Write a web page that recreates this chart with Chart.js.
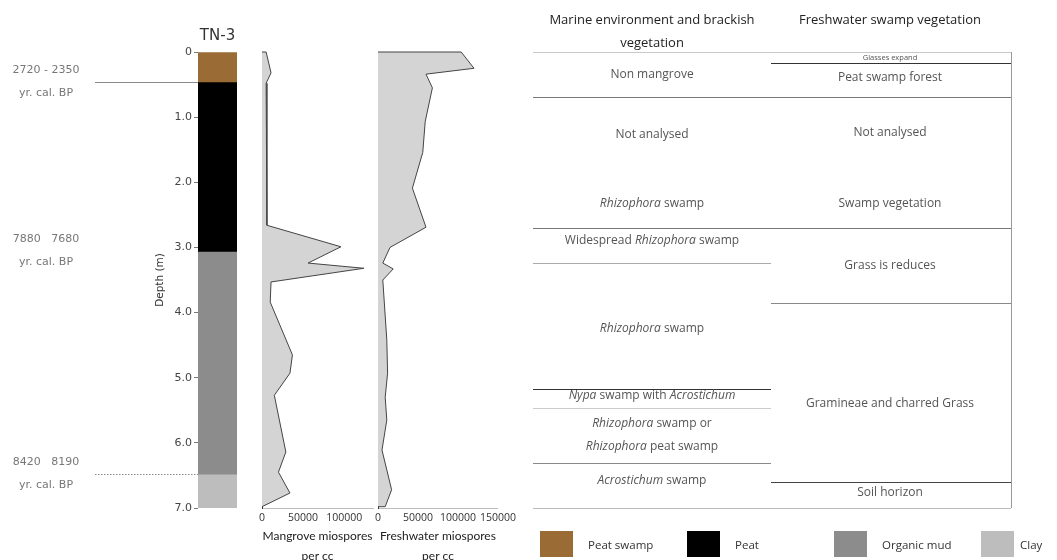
<!DOCTYPE html>
<html>
<head>
<meta charset="utf-8">
<title>TN-3 core: lithology, miospores and vegetation zones</title>
<script src="https://cdn.jsdelivr.net/npm/chart.js@4.4.1/dist/chart.umd.min.js"></script>
<style>
  html, body { margin: 0; padding: 0; background: #fff; overflow: hidden; width: 1057px; height: 560px; }
  canvas { position: absolute; top: 0; }
  .lg-item { position: absolute; top: 531px; height: 26px; display: flex; align-items: center;
             font: 11.5px "Open Sans", sans-serif; color: #333; white-space: nowrap; }
  .lg-swatch { width: 33px; height: 26px; margin-right: 15px; }
</style>
</head>
<body>
<canvas id="core" width="250" height="560" style="left:0px"></canvas>
<canvas id="mangrove" width="140" height="580" style="left:250px"></canvas>
<canvas id="fresh" width="150" height="580" style="left:370px"></canvas>
<canvas id="zones" width="537" height="560" style="left:520px"></canvas>
<div id="legend"></div>

<script>
// ---- Core TN-3 lithology (depth in m) ----
const lithNames = ['Peat swamp', 'Peat', 'Organic mud', 'Clay'];
const lithTop   = [0, 0.46, 3.06, 6.48];
const lithBase  = [0.46, 3.06, 6.48, 7.0];

// Radiocarbon ages at unit boundaries
const ageDepths = [0.46, 3.06, 6.48];
const ageLabels = ['2720 - 2350', '7880   7680', '8420   8190'];
const ageUnit = 'yr. cal. BP';

const depthTicks = [0, 1, 2, 3, 4, 5, 6, 7];

// ---- Miospore concentrations (per cc) ----
const mangroveDepth = [0, 0.32, 0.48, 2.66, 2.99, 3.24, 3.32, 3.53, 3.84, 4.65, 4.93, 5.27, 6.14, 6.45, 6.77, 6.98];
const mangroveCount = [5000, 11000, 5000, 6000, 96000, 56000, 124000, 11000, 10000, 37000, 34000, 15000, 29000, 20000, 34000, 0];

const freshDepth = [0, 0.25, 0.34, 0.55, 1.07, 1.54, 2.09, 2.69, 3.00, 3.24, 3.33, 3.50, 4.42, 4.93, 5.30, 5.65, 6.11, 6.72, 6.98];
const freshCount = [104000, 120000, 60000, 68000, 59000, 56000, 43000, 60000, 15000, 6000, 19000, 6000, 11000, 12000, 9000, 11000, 5000, 17000, 9000];

const mangroveTicks = [0, 50000, 100000];
const freshTicks = [0, 50000, 100000, 150000];

// ---- Vegetation zones (depth in m; *text* is set in italics) ----
const zoneColumns = ['Marine environment and brackish vegetation', 'Freshwater swamp vegetation'];

const marineBounds = [0, 0.69, 1.85, 2.70, 3.24, 5.17, 5.46, 6.31, 7.0];
const marineRuled  = [0, 0.69, 2.70, 3.24, 5.17, 5.46, 6.31, 7.0];
const marineText = ['Non mangrove', 'Not analysed', '*Rhizophora* swamp', 'Widespread *Rhizophora* swamp',
  '*Rhizophora* swamp', '*Nypa* swamp with *Acrostichum*', '*Rhizophora* swamp or\n*Rhizophora* peat swamp',
  '*Acrostichum* swamp'];
const marineLabelDepth = [0.34, 1.27, 2.32, 2.90, 4.25, 5.27, 5.885, 6.58];

const freshBounds = [0, 0.17, 0.69, 1.85, 2.70, 3.85, 6.60, 7.0];
const freshRuled  = [0, 0.17, 0.69, 2.70, 3.85, 6.60, 7.0];
const freshText = ['Glasses expand', 'Peat swamp forest', 'Not analysed', 'Swamp vegetation',
  'Grass is reduces', 'Gramineae and charred Grass', 'Soil horizon'];
const freshLabelDepth = [0.09, 0.40, 1.23, 2.32, 3.28, 5.39, 6.77];

// ---- Styling ----
const LITH_COLORS = ['#9a6b34', '#000000', '#8c8c8c', '#bdbdbd'];
const AGE_RULES = ['solid', null, 'dotted'];
const MARINE_RULE_COLORS = ['#c8c8c8', '#7a7a7a', '#777777', '#aaaaaa', '#333333', '#cccccc', '#888888', '#bbbbbb'];
const FRESH_RULE_COLORS  = ['#c8c8c8', '#333333', '#7a7a7a', '#777777', '#888888', '#444444', '#bbbbbb'];
const SANS = '"Open Sans", "Noto Sans", sans-serif';
const NARROW = 'Lato, "Open Sans", sans-serif';
const DEJAVU = '"DejaVu Sans", sans-serif';
const FILL = '#d4d4d4';
const STROKE = '#444444';

Chart.defaults.animation = false;
Chart.defaults.plugins.legend.display = false;
Chart.defaults.plugins.tooltip.enabled = false;

// ---------- Lithology column with age annotations ----------
const ageMarks = {
  id: 'ageMarks',
  afterDraw(chart) {
    const { ctx, chartArea, scales: { y } } = chart;
    ctx.save();
    ctx.font = '11px ' + DEJAVU;
    ctx.fillStyle = '#777';
    ctx.textAlign = 'center';
    ctx.textBaseline = 'middle';
    ageDepths.forEach((d, i) => {
      const py = y.getPixelForValue(d);
      ctx.fillText(ageLabels[i], 46, py - 12);
      ctx.fillText(ageUnit, 46, py + 11);
      const rule = AGE_RULES[i];
      if (rule) {
        const ly = Math.round(py) + 0.5;
        ctx.strokeStyle = '#8a8a8a';
        ctx.lineWidth = 1;
        ctx.setLineDash(rule === 'dotted' ? [1.5, 1.5] : []);
        ctx.beginPath();
        ctx.moveTo(95, ly);
        ctx.lineTo(chartArea.left, ly);
        ctx.stroke();
      }
    });
    ctx.restore();
  }
};

new Chart(document.getElementById('core'), {
  type: 'bar',
  data: {
    labels: ['TN-3'],
    datasets: lithNames.map((name, i) => ({
      label: name,
      data: [[lithTop[i], lithBase[i]]],
      backgroundColor: LITH_COLORS[i],
      borderWidth: 0,
      grouped: false,
      barPercentage: 1,
      categoryPercentage: 1
    }))
  },
  options: {
    responsive: false,
    layout: { padding: { left: 150, right: 13, top: 27, bottom: 52 } },
    plugins: {
      title: {
        display: true, text: 'TN-3', fullSize: false, color: '#333',
        font: { family: DEJAVU, size: 15, weight: 'normal' },
        padding: { top: 0, bottom: 7 }
      }
    },
    scales: {
      x: { display: false },
      y: {
        type: 'linear', reverse: true, min: 0, max: 7,
        afterBuildTicks: s => { s.ticks = depthTicks.map(v => ({ value: v })); },
        afterFit: s => { s.width = 48; },
        ticks: {
          callback: v => (v === 0 ? '0' : Number(v).toFixed(1)),
          font: { family: DEJAVU, size: 11 }, color: '#444', padding: 2
        },
        grid: { display: true, drawOnChartArea: false, drawTicks: true, tickLength: 4, color: '#777' },
        border: { display: false },
        title: {
          display: true, text: 'Depth (m)', color: '#333',
          font: { family: DEJAVU, size: 10.5 }, padding: { top: 4, bottom: 0 }
        }
      }
    }
  },
  plugins: [ageMarks]
});

// ---------- Miospore concentration profiles ----------
// Strokes the closing edges of the filled profile (top and bottom samples back to zero).
const closeEdges = {
  id: 'closeEdges',
  afterDatasetsDraw(chart) {
    const { ctx, scales: { x } } = chart;
    const pts = chart.getDatasetMeta(0).data;
    if (!pts.length) return;
    const x0 = x.getPixelForValue(0);
    ctx.save();
    ctx.strokeStyle = STROKE;
    ctx.lineWidth = 1;
    [pts[0], pts[pts.length - 1]].forEach(p => {
      ctx.beginPath();
      ctx.moveTo(x0, p.y);
      ctx.lineTo(p.x, p.y);
      ctx.stroke();
    });
    ctx.restore();
  }
};

function profileChart(id, label, depths, counts, max, tickValues, padLeft, padRight) {
  return new Chart(document.getElementById(id), {
    type: 'line',
    data: {
      datasets: [{
        label: label,
        data: depths.map((d, i) => ({ x: counts[i], y: d })),
        fill: 'origin',
        backgroundColor: FILL,
        borderColor: STROKE,
        borderWidth: 1,
        pointRadius: 0,
        tension: 0
      }]
    },
    options: {
      indexAxis: 'y',
      responsive: false,
      layout: { padding: { left: padLeft, right: padRight, top: 52, bottom: 0 } },
      scales: {
        x: {
          type: 'linear', position: 'bottom', min: 0, max: max,
          afterBuildTicks: s => { s.ticks = tickValues.map(v => ({ value: v })); },
          afterFit: s => { s.height = 72; },
          ticks: {
            autoSkip: false, maxRotation: 0, callback: v => String(v),
            font: { family: SANS, size: 10.5 }, color: '#333', padding: 4
          },
          grid: { display: false, drawTicks: false },
          border: { display: true, color: '#bdbdbd', width: 1 },
          title: {
            display: true, text: [label, 'per cc'], color: '#222',
            font: { family: NARROW, size: 12, lineHeight: 20 / 12 },
            padding: { top: 0, bottom: 14 }
          }
        },
        y: {
          type: 'linear', position: 'left', reverse: true, min: 0, max: 7,
          afterFit: s => { s.width = 0; },
          ticks: { display: false },
          grid: { display: false, drawTicks: false },
          border: { display: true, color: '#333', width: 1 }
        }
      }
    },
    plugins: [closeEdges]
  });
}

profileChart('mangrove', 'Mangrove miospores', mangroveDepth, mangroveCount, 135000, mangroveTicks, 12, 17);
profileChart('fresh', 'Freshwater miospores', freshDepth, freshCount, 150000, freshTicks, 8, 20);

// ---------- Vegetation zone table ----------
function wrapHeader(text, maxChars) {
  const lines = [];
  let cur = '';
  text.split(' ').forEach(w => {
    const next = cur ? cur + ' ' + w : w;
    if (next.length > maxChars && cur) { lines.push(cur); cur = w; } else { cur = next; }
  });
  lines.push(cur);
  while (lines.length < 2) lines.push('');
  return lines;
}

function drawRich(ctx, str, cx, cy, size) {
  const parts = str.split('*').map((t, k) => ({ t: t, it: k % 2 === 1 })).filter(p => p.t.length);
  const fontFor = it => (it ? 'italic ' : '') + size + 'px ' + SANS;
  let total = 0;
  parts.forEach(p => { ctx.font = fontFor(p.it); p.w = ctx.measureText(p.t).width; total += p.w; });
  let px = cx - total / 2;
  ctx.textAlign = 'left';
  parts.forEach(p => { ctx.font = fontFor(p.it); ctx.fillText(p.t, px, cy); px += p.w; });
}

const zoneColumnsData = [
  { bounds: marineBounds, ruled: marineRuled, text: marineText, at: marineLabelDepth, colors: MARINE_RULE_COLORS },
  { bounds: freshBounds, ruled: freshRuled, text: freshText, at: freshLabelDepth, colors: FRESH_RULE_COLORS }
];

const zoneCells = [];
zoneColumnsData.forEach((col, c) => {
  for (let i = 0; i < col.bounds.length - 1; i++) {
    zoneCells.push({ x: zoneColumns[c], y: [col.bounds[i], col.bounds[i + 1]] });
  }
});

const zoneLayer = {
  id: 'zoneLayer',
  afterDatasetsDraw(chart) {
    const { ctx, chartArea, scales: { x, y } } = chart;
    const half = (chartArea.right - chartArea.left) / 2;
    ctx.save();
    zoneColumnsData.forEach((col, c) => {
      const left = chartArea.left + c * half;
      const right = left + half;
      // zone boundaries
      col.ruled.forEach((d, i) => {
        const ly = Math.round(y.getPixelForValue(d)) + 0.5;
        ctx.strokeStyle = col.colors[i];
        ctx.lineWidth = 1;
        ctx.beginPath();
        ctx.moveTo(left, ly);
        ctx.lineTo(c === 1 ? right + 2 : right, ly);
        ctx.stroke();
      });
      // zone names
      const cx = x.getPixelForValue(c);
      ctx.fillStyle = '#555';
      ctx.textBaseline = 'middle';
      col.text.forEach((t, i) => {
        const h = y.getPixelForValue(col.bounds[i + 1]) - y.getPixelForValue(col.bounds[i]);
        const size = h < 15 ? 7.5 : 12;
        const lines = t.split('\n');
        const cy = y.getPixelForValue(col.at[i]);
        lines.forEach((ln, k) => drawRich(ctx, ln, cx, cy + (k - (lines.length - 1) / 2) * 23, size));
      });
    });
    // right-hand frame
    const rx = Math.round(chartArea.right + 2) + 0.5;
    ctx.strokeStyle = '#999';
    ctx.beginPath();
    ctx.moveTo(rx, y.getPixelForValue(0));
    ctx.lineTo(rx, y.getPixelForValue(7));
    ctx.stroke();
    ctx.restore();
  }
};

new Chart(document.getElementById('zones'), {
  type: 'bar',
  data: {
    labels: zoneColumns,
    datasets: [{
      label: 'Vegetation zones',
      data: zoneCells,
      backgroundColor: '#ffffff',
      borderWidth: 0,
      barPercentage: 1,
      categoryPercentage: 1
    }]
  },
  options: {
    responsive: false,
    layout: { padding: { left: 13, right: 48, top: 0, bottom: 52 } },
    scales: {
      x: {
        type: 'category', position: 'top', offset: true,
        afterFit: s => { s.height = 52; },
        ticks: {
          callback: (v, i) => wrapHeader(zoneColumns[i], 31),
          autoSkip: false, maxRotation: 0,
          font: { family: SANS, size: 13, lineHeight: 23 / 13 }, color: '#222', padding: -2.5
        },
        grid: { display: false, drawTicks: false },
        border: { display: false }
      },
      y: { type: 'linear', display: false, reverse: true, min: 0, max: 7 }
    }
  },
  plugins: [zoneLayer]
});

// ---------- Lithology key ----------
const legendBox = document.getElementById('legend');
lithNames.forEach((name, i) => {
  const item = document.createElement('div');
  item.className = 'lg-item';
  item.style.left = (540 + i * 147) + 'px';
  const sw = document.createElement('div');
  sw.className = 'lg-swatch';
  sw.style.background = LITH_COLORS[i];
  const tx = document.createElement('span');
  tx.textContent = name;
  if (i === lithNames.length - 1) sw.style.marginRight = '6px';
  item.appendChild(sw);
  item.appendChild(tx);
  legendBox.appendChild(item);
});
</script>
</body>
</html>
